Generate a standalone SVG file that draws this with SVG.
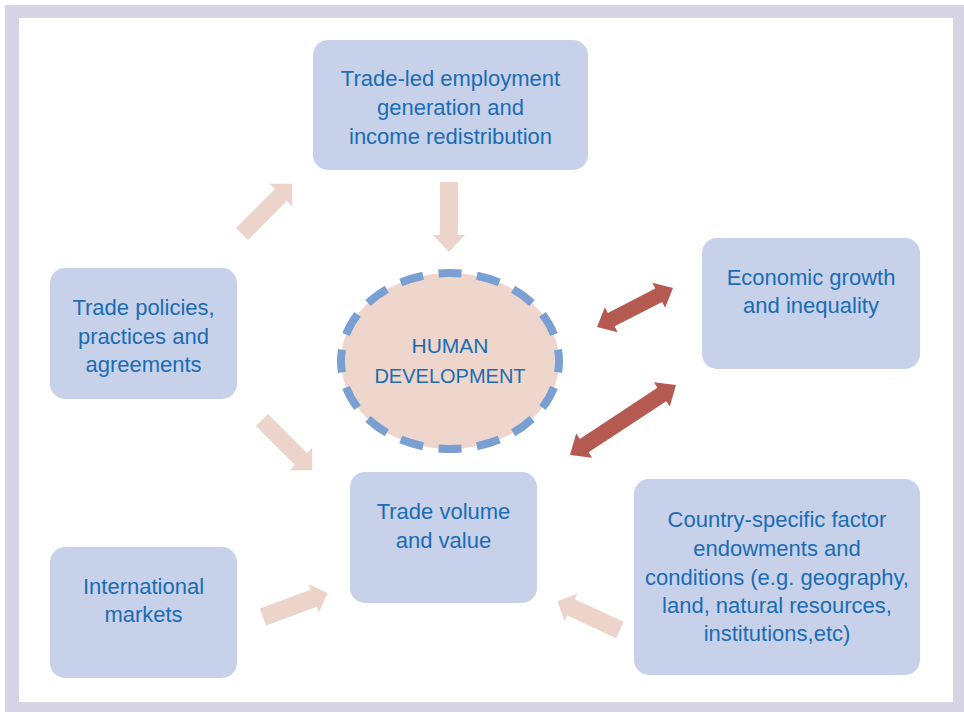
<svg xmlns="http://www.w3.org/2000/svg" width="964" height="712" viewBox="0 0 964 712">
  <style>
    .box { fill: #c7d2ea; }
    .label { font-family: "Liberation Sans", Arial, sans-serif; font-size: 22px; fill: #1b6cb4; text-anchor: middle; }
    .flow { fill: #ecd4cb; }
    .link { fill: #b55a50; }
  </style>

  <!-- frame -->
  <rect x="5" y="5" width="959" height="707" fill="#d6d3e4"/>
  <rect x="19" y="18" width="934" height="684" fill="#ffffff"/>

  <!-- connectors -->
  <g id="connectors">
    <!-- single block arrows: tail at origin, pointing along +x -->
    <path class="flow" transform="translate(242,234) rotate(-45)" d="M0,-8.5 H55 V-16 L71,0 L55,16 V8.5 H0 Z"/>
    <path class="flow" transform="translate(449,182) rotate(90)" d="M0,-9 H53 V-16 L70,0 L53,16 V9 H0 Z"/>
    <path class="flow" transform="translate(262,420) rotate(45)" d="M0,-8.5 H55 V-16 L71,0 L55,16 V8.5 H0 Z"/>
    <path class="flow" transform="translate(263,617) rotate(-20.3)" d="M0,-9 H54 V-15 L69,0 L54,15 V9 H0 Z"/>
    <path class="flow" transform="translate(620,630) rotate(204.7)" d="M0,-9 H54 V-15 L69,0 L54,15 V9 H0 Z"/>
    <!-- double-headed arrows -->
    <path class="link" transform="translate(597,327) rotate(-27.2)" d="M0,0 L16,-14 V-7.5 H69.4 V-14 L85.4,0 L69.4,14 V7.5 H16 V14 Z"/>
    <path class="link" transform="translate(570,455) rotate(-33.4)" d="M0,0 L17,-14.5 V-8 H110 V-14.5 L127,0 L110,14.5 V8 H17 V14.5 Z"/>
  </g>

  <g id="employment">
    <rect class="box" x="313" y="40" width="275" height="130" rx="15"/>
    <text class="label" x="450.5" y="86">Trade-led employment</text>
    <text class="label" x="450.5" y="115">generation and</text>
    <text class="label" x="450.5" y="144">income redistribution</text>
  </g>

  <g id="policies">
    <rect class="box" x="50" y="268" width="187" height="131" rx="15"/>
    <text class="label" x="143.5" y="315">Trade policies,</text>
    <text class="label" x="143.5" y="344">practices and</text>
    <text class="label" x="143.5" y="372">agreements</text>
  </g>

  <g id="human-development">
    <ellipse cx="450" cy="361" rx="109" ry="88" fill="#eed6cd" stroke="#7a9fd3" stroke-width="8" pathLength="320" stroke-dasharray="12 8" stroke-dashoffset="6"/>
    <text class="label" x="450" y="353" style="font-size:21px">HUMAN</text>
    <text class="label" x="450" y="383" style="font-size:20px">DEVELOPMENT</text>
  </g>

  <g id="growth">
    <rect class="box" x="702" y="238" width="218" height="131" rx="15"/>
    <text class="label" x="811" y="285">Economic growth</text>
    <text class="label" x="811" y="313">and inequality</text>
  </g>

  <g id="trade-volume">
    <rect class="box" x="350" y="472" width="187" height="131" rx="15"/>
    <text class="label" x="443.5" y="519">Trade volume</text>
    <text class="label" x="443.5" y="548">and value</text>
  </g>

  <g id="markets">
    <rect class="box" x="50" y="547" width="187" height="131" rx="15"/>
    <text class="label" x="143.5" y="594">International</text>
    <text class="label" x="143.5" y="622">markets</text>
  </g>

  <g id="endowments">
    <rect class="box" x="634" y="479" width="286" height="196" rx="15"/>
    <text class="label" x="777" y="527">Country-specific factor</text>
    <text class="label" x="777" y="556">endowments and</text>
    <text class="label" x="777" y="585">conditions (e.g. geography,</text>
    <text class="label" x="777" y="613">land, natural resources,</text>
    <text class="label" x="777" y="641">institutions,etc)</text>
  </g>
</svg>
